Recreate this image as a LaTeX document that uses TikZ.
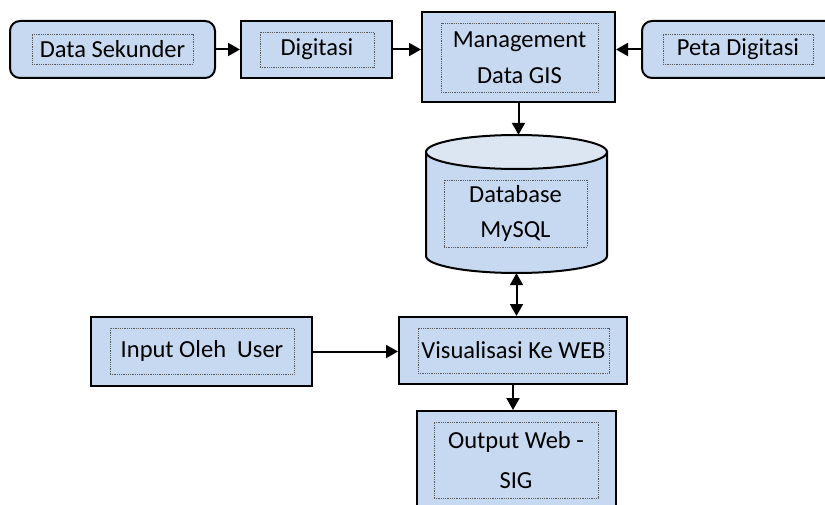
\documentclass[tikz,border=0pt]{standalone}
\usepackage{fontspec}
\setmainfont{Carlito}
\usetikzlibrary{arrows.meta}
\definecolor{boxfill}{HTML}{C6D9F1}
\definecolor{topfill}{HTML}{DCE6F2}
\begin{document}
\begin{tikzpicture}[x=1pt,y=-1pt,
  box/.style={draw=black, line width=2pt, fill=boxfill, inner sep=0pt},
  rbox/.style={box, rounded corners=10pt},
  inbox/.style={draw=black!65, densely dotted, line width=0.8pt, inner sep=0pt,
    font=\fontsize{24.5}{36}\selectfont, align=center, text=black},
  tip/.tip={Triangle[length=12pt,width=13pt]},
  conn/.style={line width=2pt, -tip},
  dconn/.style={line width=2pt, tip-tip},
]
\useasboundingbox (0,0) rectangle (825,505);
\begin{scope}
\clip (0,0) rectangle (825,505);
% top row
\node[rbox, minimum width=205pt, minimum height=57pt] (ds) at (112.5,49.5) {};
\node[inbox, minimum width=161pt, minimum height=30pt] (dsi) at (112.5,49) {Data Sekunder};
\node[box, minimum width=151pt, minimum height=57pt] (dg) at (316.5,49.5) {};
\node[inbox, minimum width=114pt, minimum height=35pt] (dgi) at (317,49.5) {Digitasi};
\node[box, minimum width=193pt, minimum height=90pt] (mg) at (518.5,57) {};
\node[inbox, minimum width=157pt, minimum height=69pt] (mgi) at (519.5,57.5) {Management\\Data GIS};
\node[rbox, minimum width=238pt, minimum height=57pt] (pd) at (761,49.5) {};
\node[inbox, minimum width=150pt, minimum height=30pt] (pdi) at (738,49) {Peta Digitasi};
% database cylinder
\node[minimum width=181pt, minimum height=138pt, inner sep=0pt] (db) at (516.5,204) {};
\filldraw[box] (426,152) -- (426,256) arc[start angle=180, end angle=0, x radius=90.5, y radius=17] -- (607,152) -- cycle;
\filldraw[box, fill=topfill] (516.5,152) ellipse[x radius=90.5, y radius=17];
\node[inbox, minimum width=143pt, minimum height=67pt, font=\fontsize{24.5}{35}\selectfont] (dbi) at (515.5,213.5) {Database\\MySQL};
% lower part
\node[box, minimum width=228pt, minimum height=67pt] (vis) at (513,350.5) {};
\node[inbox, minimum width=191pt, minimum height=45pt] (visi) at (513.5,350.5) {Visualisasi Ke WEB};
\node[box, minimum width=221pt, minimum height=69pt] (in) at (201.5,351.5) {};
\node[inbox, minimum width=184pt, minimum height=46pt] (ini) at (202,351) {Input Oleh\ \ User};
\node[box, minimum width=199pt, minimum height=104pt] (out) at (516.5,463) {};
\node[inbox, minimum width=164pt, minimum height=76pt, font=\fontsize{24.5}{40}\selectfont] (outi) at (516,460) {Output Web -\\SIG};
% connectors
\draw[conn] (ds.east) -- (dg.west);
\draw[conn] (dg.east) -- (dg.east -| mg.west);
\draw[conn] (pd.west) -- (pd.west -| mg.east);
\draw[conn] (mg.south) -- (mg.south |- db.north);
\draw[dconn] (db.south) -- (db.south |- vis.north);
\draw[conn] (in.east) -- (in.east -| vis.west);
\draw[conn] (vis.south) -- (vis.south |- out.north);
\end{scope}
\end{tikzpicture}
\end{document}
